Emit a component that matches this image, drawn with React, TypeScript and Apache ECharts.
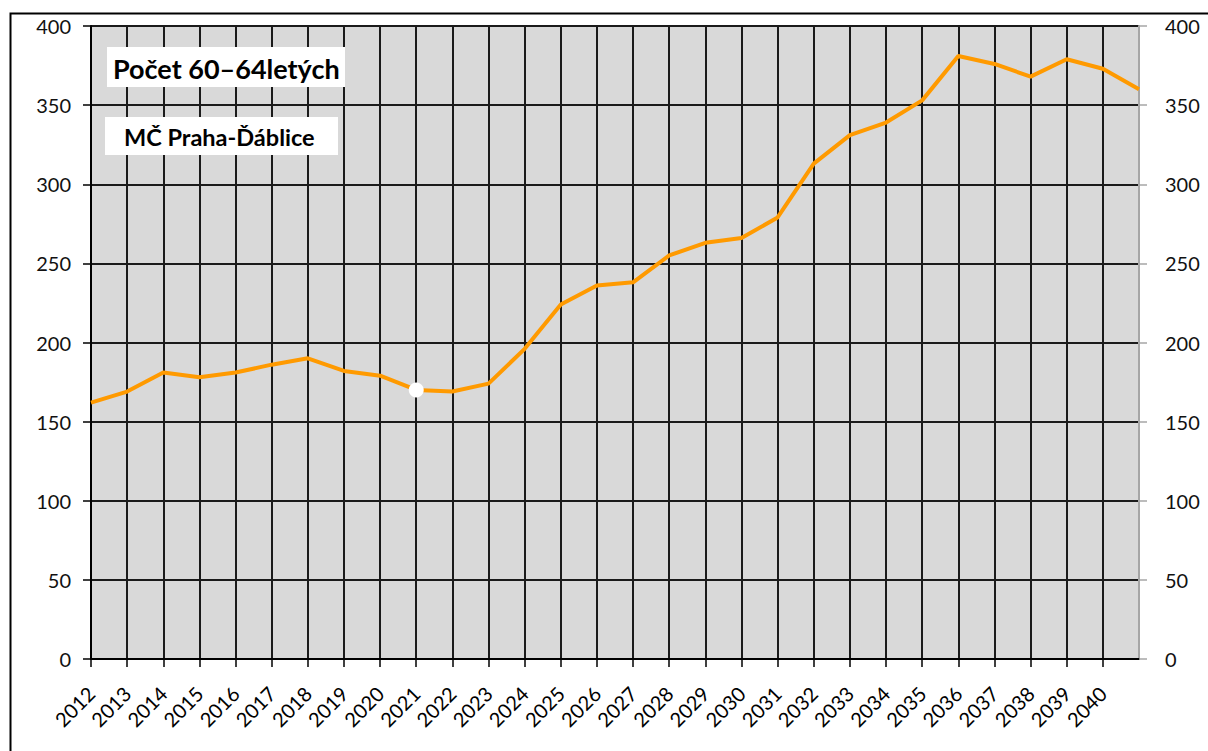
import React, { useEffect, useRef } from "react";
import * as echarts from "echarts";

const years: string[] = [
  "2012", "2013", "2014", "2015", "2016", "2017", "2018", "2019", "2020", "2021",
  "2022", "2023", "2024", "2025", "2026", "2027", "2028", "2029", "2030", "2031",
  "2032", "2033", "2034", "2035", "2036", "2037", "2038", "2039", "2040", "2041",
];
const values: number[] = [
  162, 169, 181, 178, 181, 186, 190, 182, 179, 170,
  169, 174, 196, 224, 236, 238, 255, 263, 266, 279,
  313, 331, 339, 353, 381, 376, 368, 379, 373, 360,
];
const highlightYear = "2021";
const titleMain = "Počet 60–64letých";
const titleSub = "MČ Praha-Ďáblice";
const yTicks = { min: 0, max: 400, interval: 50 };

const FONT = 'Lato, "Open Sans", "Noto Sans", sans-serif';

export default function App() {
  const ref = useRef<HTMLDivElement>(null);
  useEffect(() => {
    if (!ref.current) return;
    const chart = echarts.init(ref.current, undefined, { renderer: "svg" });
    const lastIdx = years.length - 1;
    const option: any = {
      animation: false,
      backgroundColor: "#ffffff",
      textStyle: { fontFamily: FONT },
      grid: {
        left: 91,
        right: 69,
        top: 26,
        bottom: 92,
        show: true,
        backgroundColor: "#d9d9d9",
        borderWidth: 0,
      },
      xAxis: {
        type: "category",
        data: years,
        boundaryGap: false,
        axisLine: { show: true, lineStyle: { color: "#000", width: 2 } },
        axisTick: {
          show: true,
          length: 8,
          interval: (i: number) => i < lastIdx,
          lineStyle: { color: "#000", width: 1.5 },
        },
        axisLabel: {
          interval: (i: number) => i < lastIdx,
          rotate: 45,
          margin: 31,
          fontSize: 20,
          color: "#000",
          fontFamily: FONT,
        },
        splitLine: {
          show: true,
          interval: (i: number) => i < lastIdx,
          lineStyle: { color: "#1a1a1a", width: 2 },
        },
      },
      yAxis: [
        {
          type: "value",
          position: "left",
          min: yTicks.min,
          max: yTicks.max,
          interval: yTicks.interval,
          axisLine: { show: true, lineStyle: { color: "#000", width: 2 } },
          axisTick: { show: true, length: 8, lineStyle: { color: "#000", width: 1.5 } },
          axisLabel: { margin: 20, fontSize: 20, color: "#111", fontFamily: FONT },
          splitLine: { show: true, lineStyle: { color: "#1a1a1a", width: 2 } },
        },
        {
          type: "value",
          position: "right",
          min: yTicks.min,
          max: yTicks.max,
          interval: yTicks.interval,
          axisLine: { show: true, lineStyle: { color: "#a6a6a6", width: 2 } },
          axisTick: { show: true, length: 8, lineStyle: { color: "#a6a6a6", width: 1.5 } },
          axisLabel: { margin: 26, fontSize: 20, color: "#111", fontFamily: FONT },
          splitLine: { show: false },
        },
      ],
      series: [
        {
          type: "line",
          yAxisIndex: 0,
          data: values.map((v, i) =>
            years[i] === highlightYear
              ? { value: v, symbol: "circle", symbolSize: 15, itemStyle: { color: "#ffffff", borderWidth: 0 } }
              : { value: v, symbol: "none" }
          ),
          showSymbol: true,
          symbol: "circle",
          lineStyle: { color: "#ff9a00", width: 4 },
          itemStyle: { color: "#ff9a00" },
          z: 5,
        },
      ],
      graphic: [
        {
          type: "rect",
          left: 8,
          top: 11,
          shape: { width: 1400, height: 1000 },
          style: { fill: "none", stroke: "#000", lineWidth: 2 },
          silent: true,
          z: 100,
        },
        {
          type: "rect",
          shape: { x: 107, y: 47, width: 238, height: 40 },
          style: { fill: "#ffffff" },
          z: 10,
        },
        {
          type: "text",
          x: 113,
          y: 68,
          style: {
            text: titleMain,
            fontFamily: FONT,
            fontWeight: "bold",
            fontSize: 27,
            fill: "#000",
            verticalAlign: "middle",
            align: "left",
          },
          z: 11,
        },
        {
          type: "rect",
          shape: { x: 105, y: 117, width: 233, height: 38 },
          style: { fill: "#ffffff" },
          z: 10,
        },
        {
          type: "text",
          x: 124,
          y: 137,
          style: {
            text: titleSub,
            fontFamily: FONT,
            fontWeight: "bold",
            fontSize: 23.5,
            fill: "#000",
            verticalAlign: "middle",
            align: "left",
          },
          z: 11,
        },
      ],
    };
    chart.setOption(option);
    return () => chart.dispose();
  }, []);
  return (
    <div
      ref={ref}
      style={{ position: "absolute", left: 0, top: 0, width: 1208, height: 751 }}
    />
  );
}
